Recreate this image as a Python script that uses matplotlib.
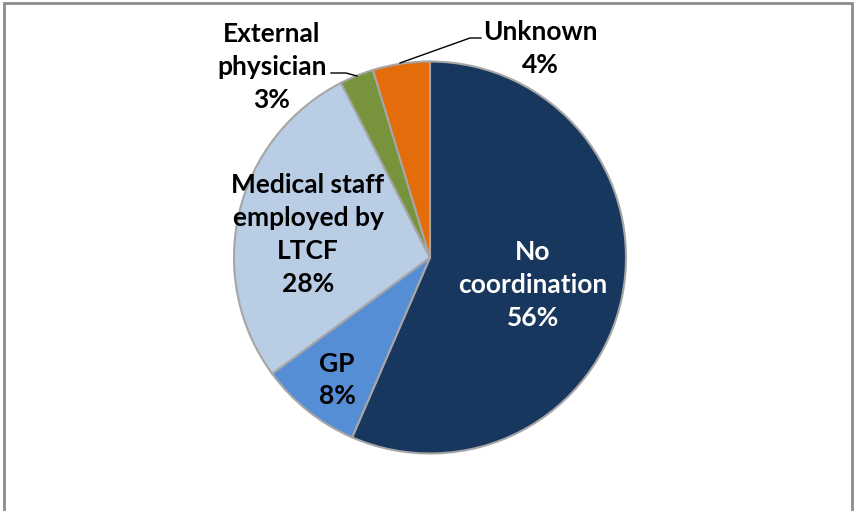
import matplotlib
matplotlib.use('Agg')
import matplotlib.pyplot as plt
from matplotlib.patches import Rectangle

# Data
categories = ['No coordination', 'GP', 'Medical staff employed by LTCF', 'External physician', 'Unknown']
shares = [56.5, 8.4, 27.6, 2.8, 4.7]
pct_labels = ['56%', '8%', '28%', '3%', '4%']
label_texts = ['No\ncoordination', 'GP', 'Medical staff\nemployed by\nLTCF', 'External\nphysician', 'Unknown']
colors = ['#17375E', '#558ED5', '#B9CDE5', '#77933C', '#E46C0A']

W, H = 856, 511
CX, CY, R = 430, 257.5, 196


def px(x, y):
    # pixel position (from top-left) -> data coordinates
    return (x - CX) / R, (CY - y) / R


fig = plt.figure(figsize=(W / 100, H / 100), dpi=100)
ax = fig.add_axes([0, 0, 1, 1])
wedges, _ = ax.pie(shares, colors=colors, startangle=90, counterclock=False,
                   wedgeprops=dict(edgecolor='#A6A6A6', linewidth=1.5))
ax.set_xlim(-CX / R, (W - CX) / R)
ax.set_ylim(-(H - CY) / R, CY / R)
ax.set_aspect('equal', adjustable='box')
ax.axis('off')

font = dict(family=['Lato', 'DejaVu Sans'], fontweight='bold', fontsize=19,
            ha='center', va='center', linespacing=1.45)

positions = [(533, 285), (337, 380), (308, 234), (272, 67), (540, 48)]
text_colors = ['white', 'black', 'black', 'black', 'black']
for lab, pct, pos, tc in zip(label_texts, pct_labels, positions, text_colors):
    ax.text(*px(*pos), lab + '\n' + pct, color=tc, **font)

# leader lines
x1, y1 = px(331, 73)
x2, y2 = px(346, 73)
x3, y3 = px(357, 76)
ax.plot([x1, x2, x3], [y1, y2, y3], color='black', lw=1)
x1, y1 = px(481, 38)
x2, y2 = px(470, 38)
x3, y3 = px(400, 63)
ax.plot([x1, x2, x3], [y1, y2, y3], color='black', lw=1)

fig.add_artist(Rectangle((4 / W, -0.05), 848 / W, (H - 3) / H + 0.05,
                         transform=fig.transFigure, fill=False,
                         edgecolor='#8C8C8C', linewidth=2, clip_on=False))

fig.savefig('out.png', dpi=100)
